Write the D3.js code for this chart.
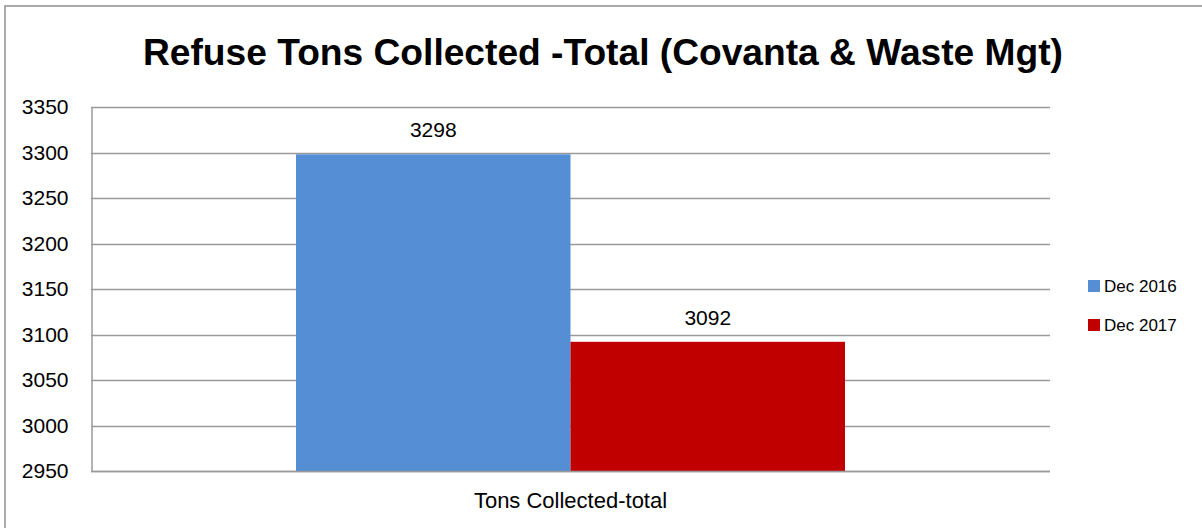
<!DOCTYPE html>
<html>
<head>
<meta charset="utf-8">
<script src="https://cdn.jsdelivr.net/npm/d3@7"></script>
<style>
  html, body { margin: 0; padding: 0; background: #fff; }
  svg { display: block; font-family: "Liberation Sans", Arial, sans-serif; }
</style>
</head>
<body>
<svg id="chart" width="1202" height="528"></svg>
<script>
const titleText = "Refuse Tons Collected -Total (Covanta & Waste Mgt)";
const categories = ["Tons Collected-total"];
const seriesNames = ["Dec 2016", "Dec 2017"];
const seriesValues = [[3298], [3092]];
const seriesColors = ["#558ED5", "#C00000"];
const yTicks = [2950, 3000, 3050, 3100, 3150, 3200, 3250, 3300, 3350];

const svg = d3.select("#chart");
const W = 1202, H = 528;
const plot = { left: 91, right: 1050, top: 107, bottom: 471 };

svg.append("rect").attr("width", W).attr("height", H).attr("fill", "#fff");
// outer chart border
svg.append("rect")
  .attr("x", 5).attr("y", 6).attr("width", W + 20).attr("height", H + 20)
  .attr("fill", "none").attr("stroke", "#8f8f8f").attr("stroke-width", 1.5);

// title
svg.append("text")
  .attr("x", 603).attr("y", 65)
  .attr("text-anchor", "middle")
  .attr("font-weight", "bold")
  .attr("font-size", 36)
  .attr("fill", "#000")
  .attr("textLength", 920)
  .attr("lengthAdjust", "spacingAndGlyphs")
  .text(titleText);

const y = d3.scaleLinear().domain([2950, 3350]).range([plot.bottom, plot.top]);
const x0 = d3.scaleBand().domain(categories).range([plot.left, plot.right])
  .paddingInner(0).paddingOuter(0.3734);
const x1 = d3.scaleBand().domain(seriesNames).range([0, x0.bandwidth()]).padding(0);

// gridlines
svg.append("g").selectAll("line").data(yTicks).join("line")
  .attr("x1", plot.left).attr("x2", plot.right)
  .attr("y1", d => Math.round(y(d)) + 0.5).attr("y2", d => Math.round(y(d)) + 0.5)
  .attr("stroke", "#9a9a9a").attr("stroke-width", 1.5);

// y axis
const yAxis = d3.axisLeft(y).tickValues(yTicks).tickSize(0).tickPadding(23).tickFormat(d3.format("d"));
const gy = svg.append("g").attr("transform", `translate(${plot.left + 0.5},0)`).call(yAxis);
gy.select(".domain").attr("stroke", "#9a9a9a").attr("stroke-width", 1.5);
gy.selectAll("text").attr("font-size", 21).attr("fill", "#000")
  .attr("font-family", "Liberation Sans, Arial, sans-serif");

// bars
const rows = categories.map((c, i) => ({ cat: c, vals: seriesNames.map((s, j) => ({ s, v: seriesValues[j][i], color: seriesColors[j] })) }));
const g = svg.append("g").selectAll("g").data(rows).join("g")
  .attr("transform", d => `translate(${x0(d.cat)},0)`);
g.selectAll("rect").data(d => d.vals).join("rect")
  .attr("x", d => x1(d.s)).attr("width", x1.bandwidth())
  .attr("y", d => y(d.v)).attr("height", d => plot.bottom - y(d.v))
  .attr("fill", d => d.color);
g.selectAll("text").data(d => d.vals).join("text")
  .attr("x", d => x1(d.s) + x1.bandwidth() / 2)
  .attr("y", d => y(d.v) - 17)
  .attr("text-anchor", "middle")
  .attr("font-size", 21).attr("fill", "#000")
  .text(d => d.v);

// x axis
const xAxis = d3.axisBottom(x0).tickSize(0).tickPadding(21);
const gx = svg.append("g").attr("transform", `translate(0,${plot.bottom + 0.5})`).call(xAxis);
gx.select(".domain").attr("d", `M${plot.left},0H${plot.right}`).attr("stroke", "#9a9a9a").attr("stroke-width", 1.5);
gx.selectAll("text").attr("font-size", 22).attr("fill", "#000")
  .attr("font-family", "Liberation Sans, Arial, sans-serif");

// legend
const leg = svg.append("g").attr("transform", "translate(1088,280)");
const li = leg.selectAll("g").data(seriesNames).join("g")
  .attr("transform", (d, i) => `translate(0,${i * 39})`);
li.append("rect").attr("width", 12).attr("height", 12).attr("fill", (d, i) => seriesColors[i]);
li.append("text").attr("x", 16).attr("y", 12).attr("font-size", 17).attr("fill", "#000").text(d => d);
</script>
</body>
</html>
